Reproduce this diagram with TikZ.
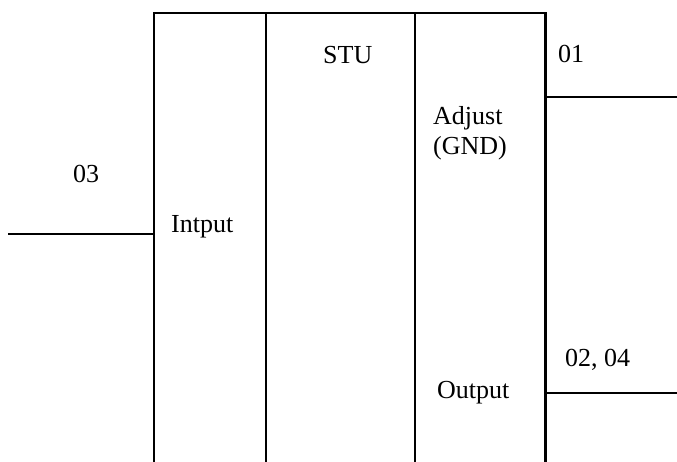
\documentclass[tikz,border=0pt]{standalone}
\usepackage{fontspec}
\setmainfont{Liberation Serif}
\begin{document}
\begin{tikzpicture}[x=1pt,y=1pt,
  lbl/.style={anchor=base west,inner sep=0pt,font=\fontsize{26}{31}\selectfont},
  wire/.style={line width=2.2pt,black}]
\useasboundingbox (0,0) rectangle (677,462);
% box corners
\coordinate (bl) at (154,0);
\coordinate (tl) at (154,449);
\coordinate (tr) at (545.5,449);
\coordinate (br) at (545.5,0);
\coordinate (d1t) at (266,449);
\coordinate (d1b) at (266,0);
\coordinate (d2t) at (415,449);
\coordinate (d2b) at (415,0);
% wires
\coordinate (inA) at (8,228);
\coordinate (inB) at (154,228);
\coordinate (oA) at (545.5,365);
\coordinate (oB) at (677,365);
\coordinate (pA) at (545.5,69);
\coordinate (pB) at (677,69);
\draw[wire] (bl) -- (tl) -- (tr) -- (br);
\draw[wire] (d1t) -- (d1b);
\draw[wire] (d2t) -- (d2b);
\draw[wire] (inA) -- (inB);
\draw[wire] (oA) -- (oB);
\draw[wire] (pA) -- (pB);
% labels
\node[lbl] (stu) at (323,398) {STU};
\node[lbl] (o1) at (558,399) {01};
\node[lbl] (adj) at (433,337) {Adjust};
\node[lbl] (gnd) at (433,307) {(GND)};
\node[lbl] (o3) at (73,279) {03};
\node[lbl] (inp) at (171,229) {Intput};
\node[lbl] (outp) at (437,63) {Output};
\node[lbl] (o24) at (565,95) {02, 04};
\end{tikzpicture}
\end{document}
